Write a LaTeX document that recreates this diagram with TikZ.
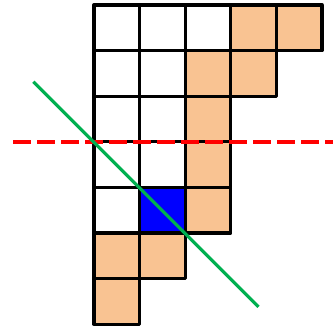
\documentclass[tikz,border=0pt]{standalone}
\definecolor{cellorange}{HTML}{F9C392}
\definecolor{cellblue}{HTML}{0000FF}
\definecolor{diaggreen}{HTML}{00B050}
\tikzset{
  cellbox/.style={draw=black,line width=3.3pt,line join=round},
  wcell/.style={cellbox,fill=white},
  ocell/.style={cellbox,fill=cellorange},
  bcell/.style={cellbox,fill=cellblue},
  redline/.style={draw=red,line width=4pt,dash pattern=on 18pt off 6pt},
  greenline/.style={draw=diaggreen,line width=3.2pt}
}
\begin{document}
\begin{tikzpicture}[x=1pt,y=-1pt]
\useasboundingbox (0,0) rectangle (333,327);
\def\cs{45.6}
\def\ox{94}
\def\oy{5}
% cells: column, row, style
\foreach \c/\r/\s in {
 0/0/wcell,1/0/wcell,2/0/wcell,3/0/ocell,4/0/ocell,
 0/1/wcell,1/1/wcell,2/1/ocell,3/1/ocell,
 0/2/wcell,1/2/wcell,2/2/ocell,
 0/3/wcell,1/3/wcell,2/3/ocell,
 0/4/wcell,1/4/bcell,2/4/ocell,
 0/5/ocell,1/5/ocell,
 0/6/ocell}{
  \path[\s] ({\ox+\c*\cs},{\oy+\r*\cs}) rectangle ++(\cs,\cs);
}
\coordinate (r1) at (13,141.7);
\coordinate (r2) at (333,141.7);
\draw[redline] (r1) -- (r2);
\coordinate (g1) at (33.3,81.7);
\coordinate (g2) at (258.5,306.8);
\draw[greenline] (g1) -- (g2);
\end{tikzpicture}
\end{document}
